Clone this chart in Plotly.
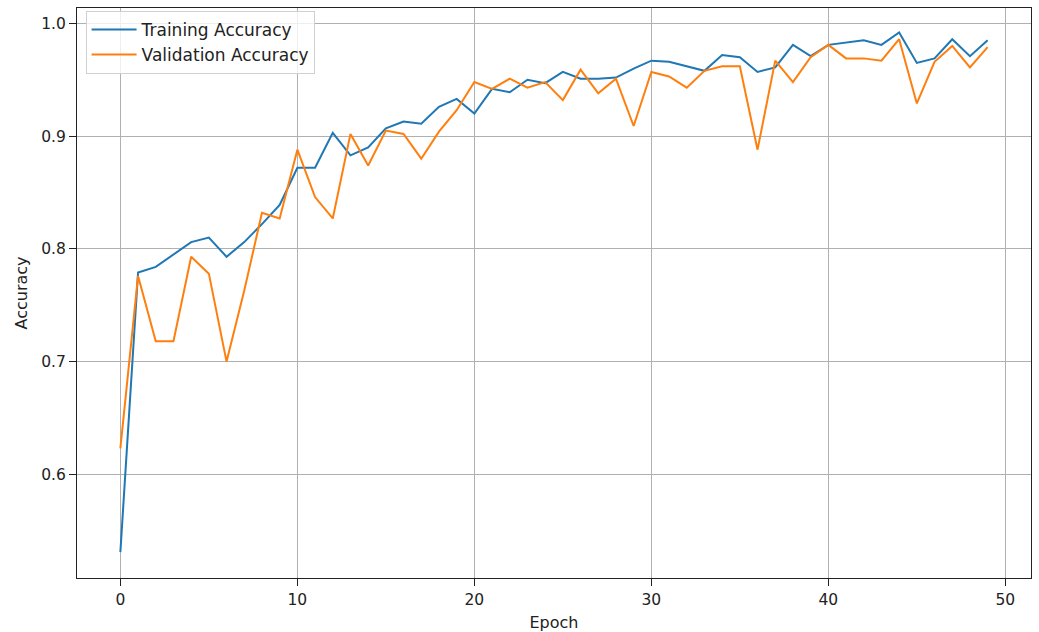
import plotly.graph_objects as go

epochs = list(range(50))

train_acc = [
    0.531, 0.779, 0.784, 0.795, 0.806, 0.810, 0.793, 0.806, 0.822, 0.839,
    0.872, 0.872, 0.903, 0.883, 0.890, 0.907, 0.913, 0.911, 0.926, 0.933,
    0.920, 0.942, 0.939, 0.950, 0.947, 0.957, 0.951, 0.951, 0.952, 0.960,
    0.967, 0.966, 0.962, 0.958, 0.972, 0.970, 0.957, 0.961, 0.981, 0.971,
    0.981, 0.983, 0.985, 0.981, 0.992, 0.965, 0.969, 0.986, 0.971, 0.985,
]

val_acc = [
    0.623, 0.776, 0.718, 0.718, 0.793, 0.778, 0.700, 0.763, 0.832, 0.827,
    0.888, 0.846, 0.827, 0.902, 0.874, 0.905, 0.902, 0.880, 0.904, 0.923,
    0.948, 0.942, 0.951, 0.943, 0.948, 0.932, 0.959, 0.938, 0.951, 0.909,
    0.957, 0.953, 0.943, 0.958, 0.962, 0.962, 0.888, 0.967, 0.948, 0.970,
    0.981, 0.969, 0.969, 0.967, 0.986, 0.929, 0.966, 0.980, 0.961, 0.979,
]

x_ticks = [0, 10, 20, 30, 40, 50]
y_ticks = [0.6, 0.7, 0.8, 0.9, 1.0]

FONT = "DejaVu Sans"

fig = go.Figure()
fig.add_trace(go.Scatter(
    x=epochs, y=train_acc, mode="lines", name="Training Accuracy",
    legendgroup="train",
    line=dict(color="#1f77b4", width=2),
))
fig.add_trace(go.Scatter(
    x=epochs, y=val_acc, mode="lines", name="Validation Accuracy",
    legendgroup="val",
    line=dict(color="#ff7f0e", width=2),
))

axis_common = dict(
    showline=True, linecolor="#222", linewidth=1, mirror=True,
    showgrid=True, gridcolor="#b0b0b0", gridwidth=1,
    ticks="outside", ticklen=7, tickcolor="#222", tickwidth=1,
    zeroline=False, automargin=False,
    tickfont=dict(family=FONT, size=15.5, color="#222"),
)

fig.update_layout(
    width=1039, height=632,
    margin=dict(l=77, r=8, t=8, b=54),
    paper_bgcolor="white", plot_bgcolor="white",
    font=dict(family=FONT, size=15.5, color="#222"),
    xaxis=dict(
        range=[-2.45, 51.45], tickvals=x_ticks,
        title=dict(text="Epoch", font=dict(family=FONT, size=16), standoff=9),
        **axis_common,
    ),
    yaxis=dict(
        range=[0.508, 1.0137], tickvals=y_ticks, tickformat=".1f",
        title=dict(text="Accuracy", font=dict(family=FONT, size=16), standoff=9),
        **axis_common,
    ),
    legend=dict(
        x=0.009, y=0.995, xanchor="left", yanchor="top",
        bgcolor="rgba(255,255,255,0.8)", bordercolor="#d0d0d0", borderwidth=1,
        font=dict(family=FONT, size=17, color="#222"),
        tracegroupgap=0, itemwidth=45,
    ),
    showlegend=True,
)

fig.write_html("out.html")
